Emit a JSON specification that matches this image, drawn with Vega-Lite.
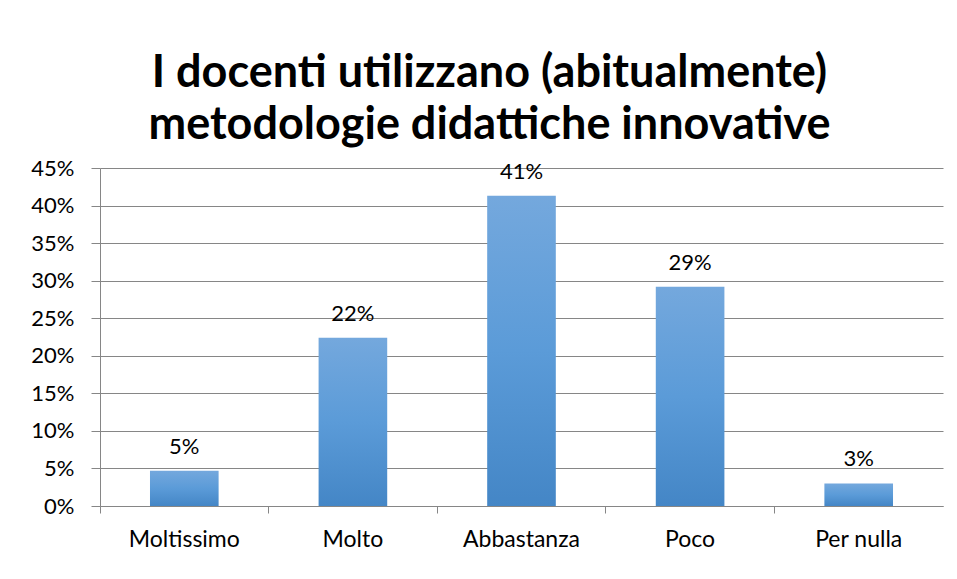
{
  "$schema": "https://vega.github.io/schema/vega-lite/v6.json",
  "width": 843,
  "height": 338,
  "autosize": "none",
  "padding": {"left": 100, "right": 14, "top": 168, "bottom": 73},
  "background": "white",
  "title": {
    "text": ["I docenti utilizzano (abitualmente)", "metodologie didattiche innovative"],
    "font": "Lato",
    "fontSize": 45,
    "fontWeight": "bold",
    "color": "#000000",
    "lineHeight": 52,
    "anchor": "middle",
    "baseline": "bottom",
    "offset": -36,
    "dx": -32
  },
  "data": {
    "values": [
      {"categoria": "Moltissimo", "valore": 0.047, "etichetta": "5%"},
      {"categoria": "Molto", "valore": 0.224, "etichetta": "22%"},
      {"categoria": "Abbastanza", "valore": 0.413, "etichetta": "41%"},
      {"categoria": "Poco", "valore": 0.292, "etichetta": "29%"},
      {"categoria": "Per nulla", "valore": 0.030, "etichetta": "3%"}
    ]
  },
  "encoding": {
    "x": {
      "field": "categoria",
      "type": "nominal",
      "sort": null,
      "scale": {"paddingInner": 0, "paddingOuter": 0},
      "axis": {
        "title": null,
        "labelAngle": 0,
        "labelFont": "Lato",
        "labelFontSize": 23,
        "labelColor": "#000000",
        "labelPadding": 15,
        "bandPosition": 0,
        "ticks": true,
        "tickSize": 7,
        "tickColor": "#868686",
        "domainColor": "#868686",
        "grid": false
      }
    },
    "y": {
      "field": "valore",
      "type": "quantitative",
      "scale": {"domain": [0, 0.45], "nice": false},
      "axis": {
        "title": null,
        "format": ".0%",
        "values": [0, 0.05, 0.1, 0.15, 0.2, 0.25, 0.3, 0.35, 0.4, 0.45],
        "labelFont": "Lato",
        "labelFontSize": 22,
        "labelColor": "#000000",
        "labelPadding": 17,
        "tickSize": 9,
        "tickColor": "#868686",
        "domainColor": "#868686",
        "gridColor": "#868686",
        "grid": true
      }
    }
  },
  "layer": [
    {
      "mark": {
        "type": "bar",
        "width": {"band": 0.407},
        "color": {
          "gradient": "linear",
          "x1": 0, "y1": 0, "x2": 0, "y2": 1,
          "stops": [
            {"offset": 0, "color": "#74a8dd"},
            {"offset": 0.5, "color": "#5b9bd8"},
            {"offset": 1, "color": "#4486c6"}
          ]
        }
      }
    },
    {
      "mark": {
        "type": "text",
        "baseline": "alphabetic",
        "dy": -17,
        "font": "Lato",
        "fontSize": 22,
        "color": "#000000"
      },
      "encoding": {
        "text": {"field": "etichetta"}
      }
    }
  ],
  "config": {
    "view": {"stroke": null}
  }
}
